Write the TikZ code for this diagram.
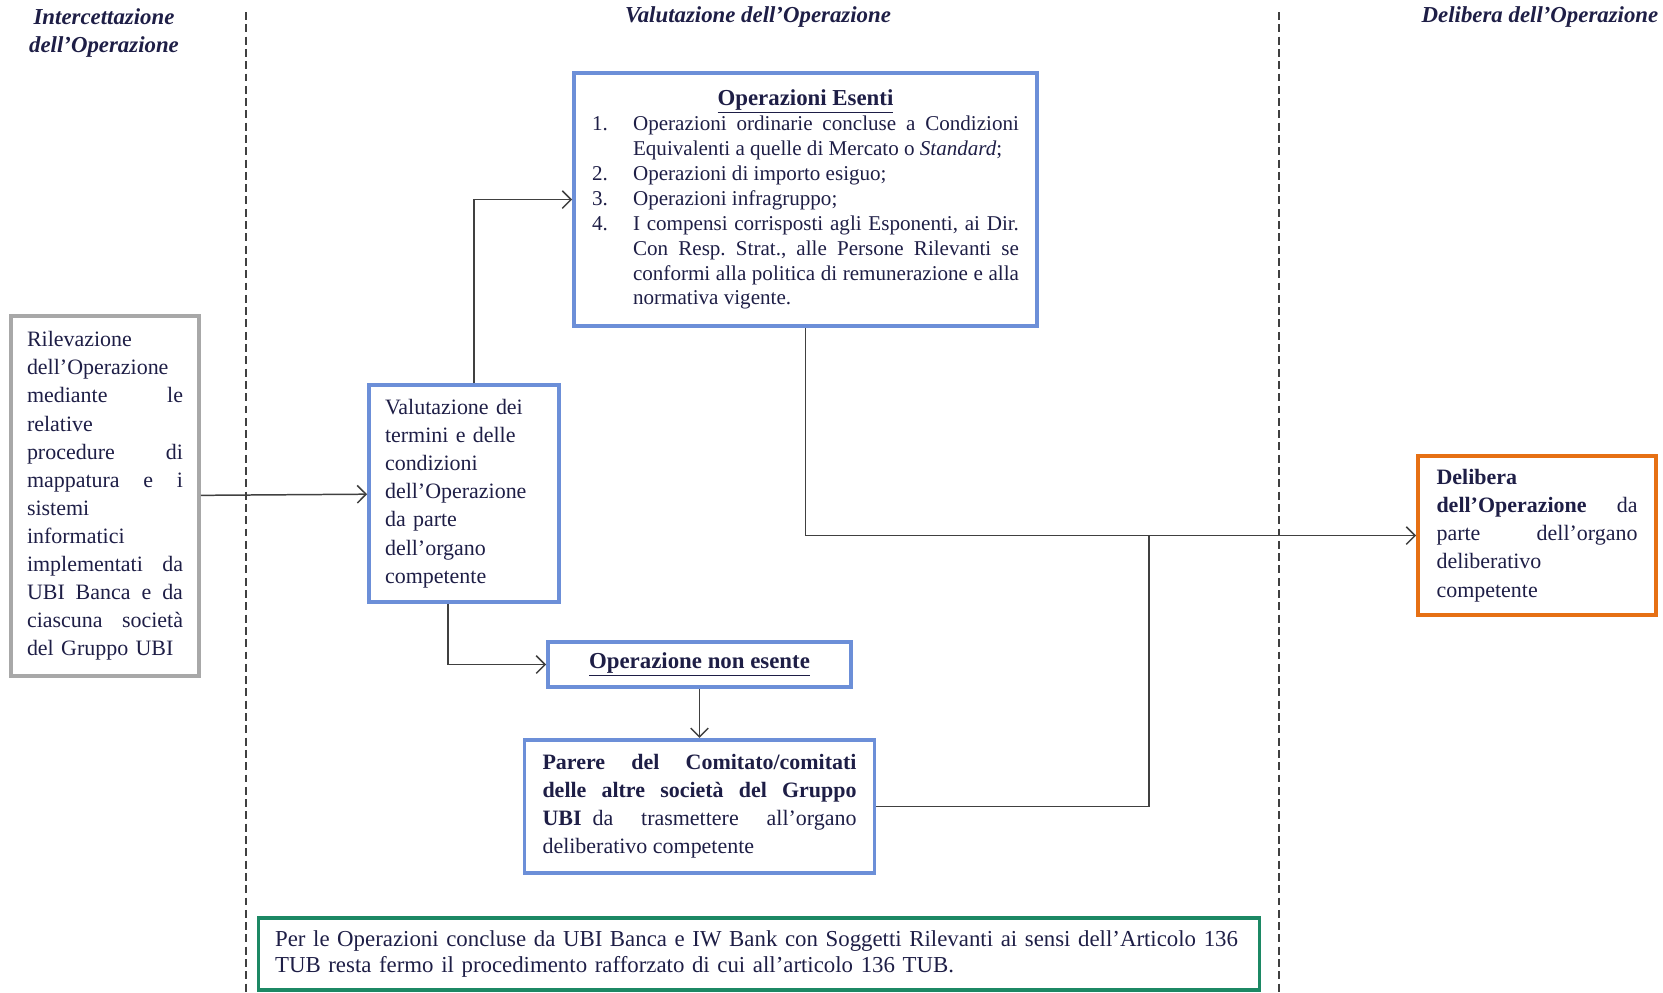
\documentclass[tikz,border=0pt]{standalone}
\usepackage{fontspec}
\setmainfont{Liberation Serif}
\usetikzlibrary{arrows.meta,positioning}

\definecolor{inchiostro}{RGB}{30,30,70}
\definecolor{bordoblu}{RGB}{108,143,216}
\definecolor{bordogrigio}{RGB}{168,168,168}
\definecolor{bordoarancio}{RGB}{230,112,20}
\definecolor{bordoverde}{RGB}{28,136,100}
\definecolor{tratto}{RGB}{64,64,64}

\hyphenpenalty=10000
\exhyphenpenalty=10000
\frenchspacing

% voce di elenco con rientro sospeso
\newcommand{\voce}[2]{\par\noindent\hangindent=0.82cm\hangafter=1\makebox[0.82cm][l]{#1}#2\par}

\begin{document}
\begin{tikzpicture}[x=0.02cm,y=-0.02cm,>={Straight Barb[length=5pt,width=10pt]}]
       \tikzstyle{every node}=[text=inchiostro]
       \tikzstyle{fase}=[font=\fontsize{13}{16}\selectfont\bfseries\itshape,align=center]
       \tikzstyle{riquadro}=[draw,line width=2.2pt,inner ysep=2pt,font=\fontsize{12.5}{16}\selectfont]
       \tikzstyle{blu}=[riquadro,draw=bordoblu]
       \tikzstyle{freccia}=[->,draw=tratto,line width=0.85pt]
       \tikzstyle{divisore}=[draw=tratto,line width=0.6pt,dash pattern=on 4.5pt off 2.5pt]

       \useasboundingbox (0,0) rectangle (1663,992);

       % intestazioni delle fasi
       \node[fase] (fase1) at (104,33) {Intercettazione\\dell'Operazione};
       \node[fase] (fase2) at (758,17) {Valutazione dell'Operazione};
       \node[fase] (fase3) at (1540,17) {Delibera dell'Operazione};

       \draw[divisore] (246,12) -- (246,992);
       \draw[divisore] (1279,12) -- (1279,992);

       % riquadri
       \node[riquadro, draw=bordogrigio, minimum width=3.76cm, minimum height=7.2cm,
             text width=3.12cm, inner xsep=0.32cm, align=left] (rilev) at (105,496)
             {Rilevazione\\ dell'Operazione\\ mediante\hfill le\\ relative\\ procedure\hfill di\\
              mappatura\hfill e\hfill i\\ sistemi\\ informatici\\ implementati\hfill da\\
              UBI\hfill Banca\hfill e\hfill da\\ ciascuna\hfill società\\ del Gruppo UBI};

       \node[blu, minimum width=3.8cm, minimum height=4.34cm,
             text width=3.16cm, inner xsep=0.32cm, align=left] (valut) at (464,493.5)
             {Valutazione dei\\ termini e delle\\ condizioni\\ dell'Operazione\\
              da parte\\ dell'organo\\ competente};

       \node[blu, minimum width=9.26cm, minimum height=5.06cm,
             text width=8.54cm, inner xsep=0.36cm, align=justify,
             font=\fontsize{12}{14.2}\selectfont] (esenti) at (805.5,199.5)
             {{\centering\fontsize{13}{14.2}\selectfont\textbf{\underline{Operazioni Esenti}}\par}
              \voce{1.}{Operazioni ordinarie concluse a Condizioni Equivalenti a quelle di Mercato o \textit{Standard};}
              \voce{2.}{Operazioni di importo esiguo;}
              \voce{3.}{Operazioni infragruppo;}
              \voce{4.}{I compensi corrisposti agli Esponenti, ai Dir. Con Resp. Strat., alle Persone Rilevanti se conformi alla politica di remunerazione e alla normativa vigente.}};

       \node[blu, minimum width=6.06cm, minimum height=0.9cm,
             font=\fontsize{13}{16}\selectfont] (nonesente) at (699.5,664.5)
             {\textbf{\underline{Operazione non esente}}};

       \node[blu, minimum width=7cm, minimum height=2.66cm,
             text width=6.28cm, inner xsep=0.36cm, align=justify,
             below=0.98cm of nonesente] (parere)
             {\textbf{Parere del Comitato/comitati\linebreak delle altre società del Gruppo\linebreak UBI}\enspace da trasmettere all'organo deliberativo competente};

       \node[riquadro, draw=bordoarancio, minimum width=4.76cm, minimum height=3.18cm,
             text width=4.02cm, inner xsep=0.37cm, align=justify] (delibera) at (1537,535.5)
             {\textbf{Delibera dell'Operazione} da parte dell'organo deliberativo competente};

       \node[riquadro, draw=bordoverde, line width=1.8pt, minimum width=20.04cm, minimum height=1.44cm,
             text width=19.36cm, inner xsep=0.34cm, align=left,
             font=\fontsize{13}{15}\selectfont] (nota) at (759,954)
             {Per le Operazioni concluse da UBI Banca e IW Bank con Soggetti Rilevanti ai sensi dell'Articolo 136\\
              TUB resta fermo il procedimento rafforzato di cui all'articolo 136 TUB.};

       \coordinate (innesto) at (1149,536);

       % collegamenti
       \draw[freccia] (rilev) -- (valut);
       \draw[freccia] ([xshift=0.2cm]valut.north) |- (esenti.west);
       \draw[freccia] ([xshift=-0.32cm]valut.south) |- (nonesente.west);
       \draw[freccia] (nonesente) -- (parere);
       \draw[freccia] (esenti.south) |- (delibera.west);
       \draw[freccia,-] (parere.east) -| (innesto);
\end{tikzpicture}
\end{document}
